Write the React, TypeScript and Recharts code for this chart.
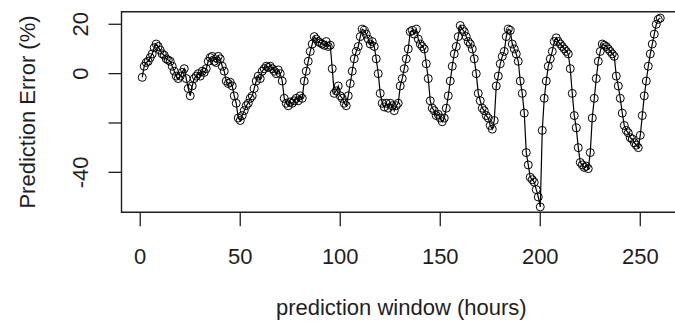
import React from "react";
import { LineChart, Line, XAxis, YAxis, ReferenceArea } from "recharts";

// Forecast horizon, in hours
const hours: number[] = Array.from({ length: 260 }, (_, i) => i + 1);

// Prediction error (%) for each hour of the window
const errorPct: number[] = [
  -1.5, 3, 4.5, 5, 6.5, 8, 10.5, 12, 11, 9.5,
  8, 7.5, 6, 5.5, 5, 3, 1, -1, -2, -1,
  0.5, 2, -2, -6, -9, -5, -2, -1, 0, -1,
  1, 0.5, 2, 5, 6.5, 7, 5, 4.5, 7, 6,
  3, 1, -3, -4, -3.5, -5, -9, -12, -18, -19,
  -17, -15, -13, -12, -10, -9, -6, -3, -1, -2,
  1, 2, 3, 2.5, 3, 2, 1, 0, 1.5, 0,
  -3, -10, -12, -13, -11.5, -12, -11, -10, -11, -9,
  -10, -3, 1, 5, 9, 12, 15, 14, 13, 12.5,
  12, 11.5, 13, 11, 11.5, 2, -8, -7, -5, -9,
  -10, -12, -13, -9, -4, 1, 6, 9, 11, 15,
  18, 17.5, 16, 14, 12, 13, 11, 6, 0, -8,
  -12, -13.5, -12, -14, -12, -13, -15, -13, -12, -5,
  -2, 2, 6, 10, 17, 17.5, 16, 18, 14, 12,
  11, 10, 4, -2, -11, -14, -15, -17, -16.5, -18,
  -19.5, -18, -14, -9, -3, 3, 8, 11, 15, 19.5,
  18, 17, 15, 13, 12, 10, 6, 0, -8, -11,
  -14, -15, -17, -18, -21, -22.5, -19, -5, -1, 4,
  7, 9, 15, 18, 17.5, 12, 10, 8, 5, -3,
  -8, -16, -32, -37, -42, -43, -44, -47, -50, -54,
  -23, -10, -3, 3, 6, 9, 13, 14.5, 13, 12,
  11, 10, 9, 8, 2, -8, -17, -22, -30, -36,
  -37, -38, -37.5, -38.5, -32, -18, -10, -2, 5, 9,
  12, 11.5, 11, 10, 9, 8, 7, -1, -5, -10,
  -16, -21, -23, -24, -26, -26.5, -28, -29, -30, -25,
  -17, -9, -3, 3, 8, 12, 16, 20, 22, 22.5,
];

const xTicks: number[] = [0, 50, 100, 150, 200, 250];
const yTicks: number[] = [-40, -20, 0, 20];
const yTickLabels: Record<number, string> = { 20: "20", 0: "0", [-40]: "-40" };

const xTitle = "prediction window (hours)";
const yTitle = "Prediction Error (%)";

const data = hours.map((h, i) => ({ x: h, y: errorPct[i] }));

// Axis ranges padded 4% beyond the data, as in base graphics
const X_DOMAIN: [number, number] = [-9.36, 270.36];
const Y_DOMAIN: [number, number] = [-56.2, 25.1];

const CHART_W = 700;
const CHART_H = 329;
const PLOT_LEFT = 121.5;
const PLOT_TOP = 11.7;
const PLOT_RIGHT = 681;
const PLOT_BOTTOM = 212.3;

const INK = "#1e1e1e";
const FONT = '"Liberation Sans", Arial, sans-serif';
const FONT_SIZE = 22;

const XTick = (props: any) => {
  const { x, payload } = props;
  return (
    <text
      x={x}
      y={PLOT_BOTTOM + 51.7}
      textAnchor="middle"
      fontFamily={FONT}
      fontSize={FONT_SIZE}
      fill={INK}
    >
      {payload.value}
    </text>
  );
};

const YTick = (props: any) => {
  const { y, payload } = props;
  const label = yTickLabels[payload.value];
  if (label === undefined) return <g />;
  const bx = PLOT_LEFT - 33;
  return (
    <text
      x={bx}
      y={y}
      transform={`rotate(-90 ${bx} ${y})`}
      textAnchor="middle"
      fontFamily={FONT}
      fontSize={FONT_SIZE}
      fill={INK}
    >
      {label}
    </text>
  );
};

export default function App() {
  const plotCenterX = (PLOT_LEFT + PLOT_RIGHT) / 2;
  const plotCenterY = (PLOT_TOP + PLOT_BOTTOM) / 2;
  return (
    <div
      style={{
        position: "absolute",
        left: 0,
        top: 0,
        width: 675,
        height: 329,
        overflow: "hidden",
        background: "#fff",
      }}
    >
      <LineChart
        width={CHART_W}
        height={CHART_H}
        data={data}
        margin={{ top: PLOT_TOP, right: CHART_W - PLOT_RIGHT, left: 0, bottom: 0 }}
      >
        <XAxis
          type="number"
          dataKey="x"
          domain={X_DOMAIN}
          allowDataOverflow
          ticks={xTicks}
          interval={0}
          height={CHART_H - PLOT_BOTTOM}
          axisLine={false}
          tickSize={14}
          tickLine={{ stroke: INK, strokeWidth: 1.3 }}
          tick={<XTick />}
        />
        <YAxis
          type="number"
          dataKey="y"
          domain={Y_DOMAIN}
          allowDataOverflow
          ticks={yTicks}
          interval={0}
          width={PLOT_LEFT}
          axisLine={false}
          tickSize={13}
          tickLine={{ stroke: INK, strokeWidth: 1.3 }}
          tick={<YTick />}
        />
        <ReferenceArea
          x1={X_DOMAIN[0]}
          x2={X_DOMAIN[1]}
          y1={Y_DOMAIN[0]}
          y2={Y_DOMAIN[1]}
          fill="none"
          fillOpacity={0}
          stroke={INK}
          strokeWidth={1.4}
          ifOverflow="visible"
        />
        <Line
          type="linear"
          dataKey="y"
          stroke="#000"
          strokeWidth={1.2}
          dot={{ r: 4, stroke: "#000", strokeWidth: 1, fill: "none" }}
          isAnimationActive={false}
        />
      </LineChart>
      <svg
        width={675}
        height={329}
        style={{ position: "absolute", left: 0, top: 0, pointerEvents: "none" }}
      >
        <text
          x={plotCenterX}
          y={PLOT_BOTTOM + 103}
          textAnchor="middle"
          fontFamily={FONT}
          fontSize={FONT_SIZE}
          fill={INK}
        >
          {xTitle}
        </text>
        <text
          x={35}
          y={plotCenterY}
          transform={`rotate(-90 35 ${plotCenterY})`}
          textAnchor="middle"
          fontFamily={FONT}
          fontSize={FONT_SIZE}
          fill={INK}
        >
          {yTitle}
        </text>
      </svg>
    </div>
  );
}
